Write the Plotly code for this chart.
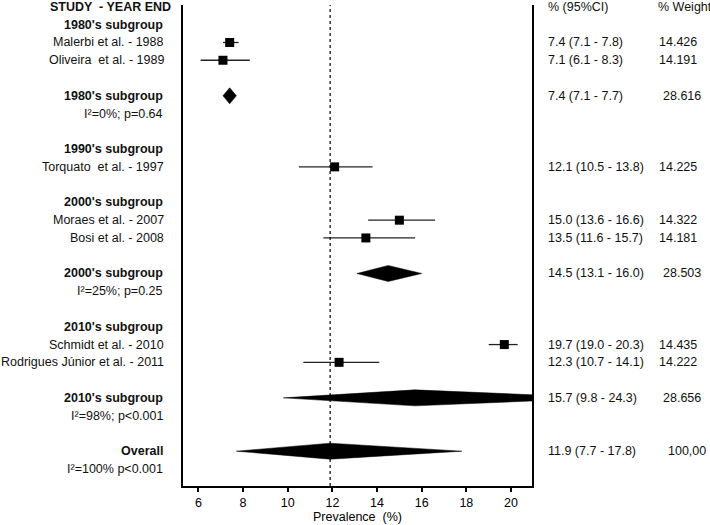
import plotly.graph_objects as go

# ---- data ----
groups = ["1980's subgroup", "1990's subgroup", "2000's subgroup", "2010's subgroup"]
study_names = [
    ["Malerbi et al. - 1988", "Oliveira  et al. - 1989"],
    ["Torquato  et al. - 1997"],
    ["Moraes et al. - 2007", "Bosi et al. - 2008"],
    ["Schmidt et al. - 2010", "Rodrigues Júnior et al. - 2011"],
]
study_est = [[7.4, 7.1], [12.1], [15.0, 13.5], [19.7, 12.3]]
study_lo = [[7.1, 6.1], [10.5], [13.6, 11.6], [19.0, 10.7]]
study_hi = [[7.8, 8.3], [13.8], [16.6, 15.7], [20.3, 14.1]]
study_w = [["14.426", "14.191"], ["14.225"], ["14.322", "14.181"], ["14.435", "14.222"]]

sub_est = [7.4, None, 14.5, 15.7]
sub_lo = [7.1, None, 13.1, 9.8]
sub_hi = [7.7, None, 16.0, 24.3]
sub_w = ["28.616", None, "28.503", "28.656"]
sub_het = ["I²=0%; p=0.64", None, "I²=25%; p=0.25", "I²=98%; p<0.001"]

overall_est, overall_lo, overall_hi = 11.9, 7.7, 17.8
overall_w = "100,00"
overall_het = "I²=100% p<0.001"

x_ticks = [6, 8, 10, 12, 14, 16, 18, 20]

# ---- build row layout ----
rows = []
rows.append(dict(kind="header"))
for g in range(len(groups)):
    rows.append(dict(kind="group", label=groups[g]))
    for i in range(len(study_names[g])):
        rows.append(dict(kind="study", label=study_names[g][i], est=study_est[g][i],
                         lo=study_lo[g][i], hi=study_hi[g][i], w=study_w[g][i]))
    rows.append(dict(kind="blank"))
    if sub_est[g] is not None:
        rows.append(dict(kind="summary", label=groups[g], est=sub_est[g], lo=sub_lo[g],
                         hi=sub_hi[g], w=sub_w[g]))
        rows.append(dict(kind="het", label=sub_het[g]))
        rows.append(dict(kind="blank"))
rows.append(dict(kind="summary", label="Overall", est=overall_est, lo=overall_lo,
                 hi=overall_hi, w=overall_w, overall=True))
rows.append(dict(kind="het", label=overall_het))

FONT = "Liberation Sans, Arial, sans-serif"
FS = 12.5
L, R = 183, 178
PW = 710 - L - R
def px(p):
    return (p - L) / PW

fig = go.Figure()
ann = []
H = 0.45

fig.add_shape(type="line", xref="x", yref="paper", x0=overall_est, x1=overall_est,
              y0=0, y1=1, line=dict(color="black", width=1.2, dash="dot"))

sq_x, sq_y = [], []
for r, row in enumerate(rows):
    k = row["kind"]
    if k == "header":
        ann.append(dict(x=px(173), y=r, xref="paper", yref="y", text="<b>STUDY  - YEAR END</b>",
                        xanchor="right", showarrow=False))
        ann.append(dict(x=px(546), y=r, xref="paper", yref="y", text="% (95%CI)",
                        xanchor="left", showarrow=False))
        ann.append(dict(x=px(656), y=r, xref="paper", yref="y", text="% Weight",
                        xanchor="left", showarrow=False))
    elif k == "group":
        ann.append(dict(x=px(165), y=r, xref="paper", yref="y", text="<b>" + row["label"] + "</b>",
                        xanchor="right", showarrow=False))
    elif k == "het":
        ann.append(dict(x=px(165), y=r, xref="paper", yref="y", text=row["label"],
                        xanchor="right", showarrow=False))
    elif k in ("study", "summary"):
        lab = row["label"] if k == "study" else "<b>" + row["label"] + "</b>"
        ann.append(dict(x=px(165 if k == "summary" else 166), y=r, xref="paper", yref="y", text=lab,
                        xanchor="right", showarrow=False))
        ann.append(dict(x=px(546), y=r, xref="paper", yref="y",
                        text=f"{row['est']:.1f} ({row['lo']:.1f} - {row['hi']:.1f})",
                        xanchor="left", showarrow=False))
        wx = 657 if k == "study" else (666 if row.get("overall") else 661)
        ann.append(dict(x=px(wx), y=r, xref="paper", yref="y", text=row["w"],
                        xanchor="left", showarrow=False))
        if k == "study":
            fig.add_trace(go.Scatter(x=[row["lo"], row["hi"]], y=[r, r], mode="lines",
                                     line=dict(color="#222", width=1.3), hoverinfo="skip"))
            sq_x.append(row["est"]); sq_y.append(r)
        else:
            fig.add_trace(go.Scatter(
                x=[row["lo"], row["est"], row["hi"], row["est"], row["lo"]],
                y=[r, r - H, r, r + H, r], mode="lines", fill="toself",
                fillcolor="black", line=dict(color="black", width=0.5), hoverinfo="skip"))

fig.add_trace(go.Scatter(x=sq_x, y=sq_y, mode="markers",
                         marker=dict(symbol="square", size=9, color="black"), hoverinfo="skip"))

fig.update_layout(
    width=710, height=525,
    margin=dict(l=L, r=R, t=5, b=39),
    paper_bgcolor="white", plot_bgcolor="white",
    showlegend=False,
    font=dict(family=FONT, size=FS, color="#111"),
    annotations=ann,
    xaxis=dict(range=[5.31, 20.94], tickvals=x_ticks, ticks="outside", ticklen=4,
               tickcolor="black", tickwidth=1.5, showline=True, linecolor="black", linewidth=2,
               showgrid=False, zeroline=False, tickfont=dict(size=FS, color="black"),
               title=dict(text="Prevalence  (%)", font=dict(size=FS, color="black"), standoff=0)),
    yaxis=dict(range=[26.96, -0.11], showticklabels=False, ticks="", showgrid=False,
               zeroline=False, showline=True, linecolor="black", linewidth=2, mirror=True),
)
fig.write_html("out.html", config={"displayModeBar": False},
               post_script="document.body.style.margin='0';document.body.style.overflow='hidden';")
